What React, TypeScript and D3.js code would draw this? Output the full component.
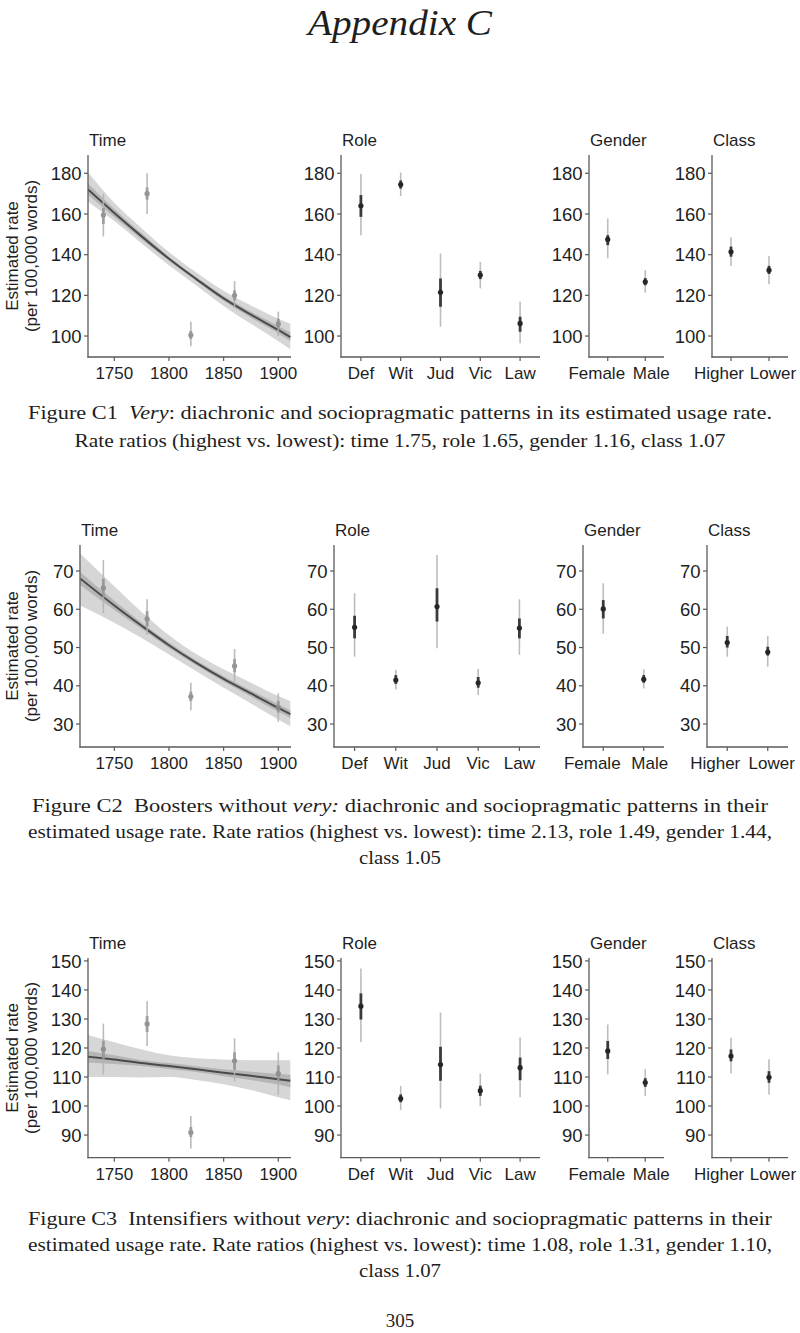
import * as d3 from "d3";

// shared categories and ticks
const timeCats = [1740, 1780, 1820, 1860, 1900];
const timeTicks = [1750, 1800, 1850, 1900];
const roleCats = ["Def", "Wit", "Jud", "Vic", "Law"];
const genderCats = ["Female", "Male"];
const classCats = ["Higher", "Lower"];

// Figure C1 - very
const c1YTicks = [100, 120, 140, 160, 180];
const c1CurveYears = [1726, 1750, 1775, 1800, 1825, 1850, 1875, 1900, 1911];
const c1CurveFit = [172, 160.5, 149, 138, 128, 118.5, 110.5, 103, 99.5];
const c1CurveOuterLo = [166, 156.5, 145.5, 134.8, 124.8, 114.8, 106, 97.5, 93.5];
const c1CurveOuterHi = [180.5, 165.5, 153, 141.3, 131.3, 122.3, 115, 108.5, 106];
const c1CurveInnerLo = [169.5, 158.5, 147.5, 137, 127, 117.3, 109, 101.3, 97.5];
const c1CurveInnerHi = [175, 162.5, 150.5, 139, 129, 119.7, 112, 104.8, 101.8];
const c1TimeEst = [159.5, 170, 100.5, 120, 106];
const c1TimeOuter = [[149, 170], [160, 180], [95, 107], [114, 127], [100, 112]];
const c1TimeInner = [[155, 163], [167, 173], [98.5, 102.5], [117.5, 122.5], [103.5, 108.5]];
const c1RoleEst = [164, 174.5, 121.5, 130, 106.2];
const c1RoleOuter = [[149.6, 179.6], [168.8, 180.4], [104.6, 140.6], [123.4, 136.5], [96.4, 116.9]];
const c1RoleInner = [[158.6, 169.3], [172.5, 176.5], [114.4, 128.3], [128, 132], [102.1, 109.5]];
const c1GenderEst = [147.5, 126.7];
const c1GenderOuter = [[138.2, 157.8], [121.3, 132.4]];
const c1GenderInner = [[144.7, 149.6], [125, 128.5]];
const c1ClassEst = [141.4, 132.4];
const c1ClassOuter = [[134.4, 148.5], [125.5, 139.3]];
const c1ClassInner = [[139, 144], [130.5, 134.5]];

// Figure C2 - boosters without very
const c2YTicks = [30, 40, 50, 60, 70];
const c2CurveYears = [1719, 1750, 1775, 1800, 1825, 1850, 1875, 1900, 1911];
const c2CurveFit = [68, 61, 55.7, 50.6, 46, 41.8, 38, 34.2, 32.6];
const c2CurveOuterLo = [61, 56.5, 52.5, 48.2, 43.8, 39.5, 35.4, 31.2, 29.4];
const c2CurveOuterHi = [74.5, 66, 59.3, 53.2, 48.3, 44.3, 40.8, 37.3, 36];
const c2CurveInnerLo = [66.3, 59.8, 54.9, 49.9, 45.4, 41.1, 37.2, 33.2, 31.6];
const c2CurveInnerHi = [69.7, 62.2, 56.5, 51.3, 46.6, 42.5, 38.8, 35.2, 33.6];
const c2TimeEst = [65.6, 57.5, 37.2, 45.2, 34.3];
const c2TimeOuter = [[59, 72.9], [53.3, 62.6], [33.6, 40.8], [41.1, 49.6], [30.6, 38]];
const c2TimeInner = [[63, 68], [55.5, 59.5], [36, 38.5], [43.5, 47], [33, 36]];
const c2RoleEst = [55.3, 41.5, 60.7, 40.8, 55.1];
const c2RoleOuter = [[47.6, 64.2], [39, 44.2], [49.8, 74.2], [37.6, 44.4], [48.1, 62.6]];
const c2RoleInner = [[52.4, 58.3], [40.5, 42.8], [56.8, 65.5], [39.5, 42.3], [52.4, 57.6]];
const c2GenderEst = [60.1, 41.7];
const c2GenderOuter = [[53.6, 66.8], [39.3, 44.3]];
const c2GenderInner = [[57.6, 62.4], [40.8, 42.8]];
const c2ClassEst = [51.3, 48.8];
const c2ClassOuter = [[47.6, 55.5], [45, 53]];
const c2ClassInner = [[50, 53], [47.9, 50.2]];

// Figure C3 - intensifiers without very
const c3YTicks = [90, 100, 110, 120, 130, 140, 150];
const c3CurveYears = [1726, 1750, 1775, 1800, 1825, 1850, 1875, 1900, 1911];
const c3CurveFit = [117, 116, 114.8, 113.8, 112.7, 111.5, 110.4, 109.2, 108.7];
const c3CurveOuterLo = [110, 110, 109.8, 110, 109, 107.5, 105.5, 103, 102];
const c3CurveOuterHi = [124.5, 122, 119.5, 117.5, 116.5, 116, 115.8, 115.8, 115.8];
const c3CurveInnerLo = [115, 114.5, 113.8, 112.8, 111.7, 110.3, 109, 107.4, 106.5];
const c3CurveInnerHi = [119, 117.5, 115.8, 114.8, 113.7, 112.7, 111.8, 111, 110.8];
const c3TimeEst = [119.6, 128.3, 90.9, 115.6, 111.2];
const c3TimeOuter = [[110.9, 128.4], [120.7, 136.1], [85.4, 96.6], [108.4, 123.3], [103.8, 118.5]];
const c3TimeInner = [[116, 122.5], [125.5, 131], [89.3, 92.8], [112.5, 118.5], [108.5, 114]];
const c3RoleEst = [134.4, 102.6, 114.3, 105.3, 113.2];
const c3RoleOuter = [[122.1, 147.4], [98.6, 106.9], [99.2, 132.2], [100, 111.2], [103, 123.6]];
const c3RoleInner = [[129.8, 138.8], [101.3, 104], [108.7, 120.4], [103.5, 107], [108.9, 116.7]];
const c3GenderEst = [119, 108.1];
const c3GenderOuter = [[110.9, 128.1], [103.5, 112.7]];
const c3GenderInner = [[116.2, 122.4], [106.6, 109.6]];
const c3ClassEst = [117.2, 109.9];
const c3ClassOuter = [[111.2, 123.5], [104, 116.1]];
const c3ClassInner = [[115.4, 119.5], [108, 112]];

const SANS = "'Liberation Sans', Arial, Helvetica, sans-serif";
const SERIF = "'Liberation Serif', 'DejaVu Serif', serif";
const INK = "#1e1e1e";
const AXIS = "#5a5a5a";
const PANEL_RIGHT = [291, 540, 664, 788];
// the two-level panels have their labels pushed apart so they don't collide
const GENDER_NUDGE = [-11, 6];
const CLASS_NUDGE = [-12, 4];

type Seg = [string, boolean];

const figures = [
  {
    id: "c1", top: 155, bottom: 357, yDomain: [89.7, 189], yTicks: c1YTicks,
    lefts: [88, 341, 589, 712],
    curve: { years: c1CurveYears, fit: c1CurveFit, oLo: c1CurveOuterLo, oHi: c1CurveOuterHi, iLo: c1CurveInnerLo, iHi: c1CurveInnerHi },
    time: { est: c1TimeEst, outer: c1TimeOuter, inner: c1TimeInner },
    role: { est: c1RoleEst, outer: c1RoleOuter, inner: c1RoleInner },
    gender: { est: c1GenderEst, outer: c1GenderOuter, inner: c1GenderInner },
    klass: { est: c1ClassEst, outer: c1ClassOuter, inner: c1ClassInner },
    caption: [
      { y: 419, len: 744, segs: [["Figure C1  ", false], ["Very", true], [": diachronic and sociopragmatic patterns in its estimated usage rate.", false]] as Seg[] },
      { y: 447, len: 651, segs: [["Rate ratios (highest vs. lowest): time 1.75, role 1.65, gender 1.16, class 1.07", false]] as Seg[] },
    ],
  },
  {
    id: "c2", top: 545, bottom: 747, yDomain: [24, 76.8], yTicks: c2YTicks,
    lefts: [80, 334, 583, 707],
    curve: { years: c2CurveYears, fit: c2CurveFit, oLo: c2CurveOuterLo, oHi: c2CurveOuterHi, iLo: c2CurveInnerLo, iHi: c2CurveInnerHi },
    time: { est: c2TimeEst, outer: c2TimeOuter, inner: c2TimeInner },
    role: { est: c2RoleEst, outer: c2RoleOuter, inner: c2RoleInner },
    gender: { est: c2GenderEst, outer: c2GenderOuter, inner: c2GenderInner },
    klass: { est: c2ClassEst, outer: c2ClassOuter, inner: c2ClassInner },
    caption: [
      { y: 812, len: 736, segs: [["Figure C2  Boosters without ", false], ["very:", true], [" diachronic and sociopragmatic patterns in their", false]] as Seg[] },
      { y: 838, len: 744, segs: [["estimated usage rate. Rate ratios (highest vs. lowest): time 2.13, role 1.49, gender 1.44,", false]] as Seg[] },
      { y: 864, len: 82, segs: [["class 1.05", false]] as Seg[] },
    ],
  },
  {
    id: "c3", top: 958, bottom: 1157.7, yDomain: [82.2, 151], yTicks: c3YTicks,
    lefts: [88, 341, 589, 712],
    curve: { years: c3CurveYears, fit: c3CurveFit, oLo: c3CurveOuterLo, oHi: c3CurveOuterHi, iLo: c3CurveInnerLo, iHi: c3CurveInnerHi },
    time: { est: c3TimeEst, outer: c3TimeOuter, inner: c3TimeInner },
    role: { est: c3RoleEst, outer: c3RoleOuter, inner: c3RoleInner },
    gender: { est: c3GenderEst, outer: c3GenderOuter, inner: c3GenderInner },
    klass: { est: c3ClassEst, outer: c3ClassOuter, inner: c3ClassInner },
    caption: [
      { y: 1225, len: 744, segs: [["Figure C3  Intensifiers without ", false], ["very", true], [": diachronic and sociopragmatic patterns in their", false]] as Seg[] },
      { y: 1251, len: 744, segs: [["estimated usage rate. Rate ratios (highest vs. lowest): time 1.08, role 1.31, gender 1.10,", false]] as Seg[] },
      { y: 1277, len: 82, segs: [["class 1.07", false]] as Seg[] },
    ],
  },
];

type Fig = (typeof figures)[number];

function Intervals({ xs, y, data, light }: { xs: number[]; y: d3.ScaleLinear<number, number>; data: { est: number[]; outer: number[][]; inner: number[][] }; light?: boolean }) {
  const outerCol = light ? "#b4b4b4" : "#bdbdbd";
  const innerCol = light ? "#959595" : "#3a3a3a";
  const dotCol = light ? "#8a8a8a" : "#262626";
  return (
    <g>
      {data.est.map((v, i) => (
        <g key={i}>
          <line x1={xs[i]} x2={xs[i]} y1={y(data.outer[i][0])} y2={y(data.outer[i][1])} stroke={outerCol} strokeWidth={1.6} />
          <line x1={xs[i]} x2={xs[i]} y1={y(data.inner[i][0])} y2={y(data.inner[i][1])} stroke={innerCol} strokeWidth={2.8} />
          <circle cx={xs[i]} cy={y(v)} r={2.6} fill={dotCol} />
        </g>
      ))}
    </g>
  );
}

function Axes({ left, right, top, bottom, y, yTicks, xTicks, title }: { left: number; right: number; top: number; bottom: number; y: d3.ScaleLinear<number, number>; yTicks: number[]; xTicks: { x: number; label: string; dx?: number }[]; title: string }) {
  return (
    <g fontFamily={SANS} fontSize={17} fill={INK}>
      <text x={left + 1} y={top - 9}>{title}</text>
      <line x1={left} x2={left} y1={top} y2={bottom + 0.6} stroke={AXIS} strokeWidth={1.3} />
      <line x1={left - 0.6} x2={right} y1={bottom} y2={bottom} stroke={AXIS} strokeWidth={1.3} />
      {yTicks.map((t) => (
        <g key={t}>
          <line x1={left - 4} x2={left} y1={y(t)} y2={y(t)} stroke={AXIS} strokeWidth={1.2} />
          <text x={left - 6.5} y={y(t)} dy="0.36em" textAnchor="end" fontSize={18.5}>{t}</text>
        </g>
      ))}
      {xTicks.map((t) => (
        <g key={t.label}>
          <line x1={t.x} x2={t.x} y1={bottom} y2={bottom + 4} stroke={AXIS} strokeWidth={1.2} />
          <text x={t.x + (t.dx || 0)} y={bottom + 22} textAnchor="middle">{t.label}</text>
        </g>
      ))}
    </g>
  );
}

function Figure({ f }: { f: Fig }) {
  const y = d3.scaleLinear().domain(f.yDomain).range([f.bottom, f.top]);
  const xTime = d3.scaleLinear().domain([1750, 1900]).range([114.3, 278.3]);
  const point = (cats: string[], k: number) =>
    d3.scalePoint<string>().domain(cats).range([f.lefts[k], PANEL_RIGHT[k]]).padding(0.5);
  const xRole = point(roleCats, 1);
  const xGender = point(genderCats, 2);
  const xClass = point(classCats, 3);

  const c = f.curve;
  const idx = d3.range(c.years.length);
  const band = (lo: number[], hi: number[]) =>
    d3.area<number>().x((i) => xTime(c.years[i])).y0((i) => y(lo[i])).y1((i) => y(hi[i])).curve(d3.curveMonotoneX)(idx) || "";
  const fitLine = d3.line<number>().x((i) => xTime(c.years[i])).y((i) => y(c.fit[i])).curve(d3.curveMonotoneX)(idx) || "";
  const mid = (f.top + f.bottom) / 2;

  return (
    <g>
      <clipPath id={`clip-${f.id}`}>
        <rect x={f.lefts[0]} y={f.top} width={PANEL_RIGHT[0] - f.lefts[0]} height={f.bottom - f.top} />
      </clipPath>
      <g clipPath={`url(#clip-${f.id})`}>
        <path d={band(c.oLo, c.oHi)} fill="#d6d6d6" />
        <path d={band(c.iLo, c.iHi)} fill="#b5b5b5" />
        <path d={fitLine} fill="none" stroke="#4a4a4a" strokeWidth={2} />
      </g>
      <g opacity={0.9}>
        <Intervals xs={timeCats.map((d) => xTime(d))} y={y} data={f.time} light />
      </g>
      <Intervals xs={roleCats.map((d) => xRole(d) as number)} y={y} data={f.role} />
      <Intervals xs={genderCats.map((d) => xGender(d) as number)} y={y} data={f.gender} />
      <Intervals xs={classCats.map((d) => xClass(d) as number)} y={y} data={f.klass} />

      <Axes left={f.lefts[0]} right={PANEL_RIGHT[0]} top={f.top} bottom={f.bottom} y={y} yTicks={f.yTicks}
        xTicks={timeTicks.map((t) => ({ x: xTime(t), label: String(t) }))} title="Time" />
      <Axes left={f.lefts[1]} right={PANEL_RIGHT[1]} top={f.top} bottom={f.bottom} y={y} yTicks={f.yTicks}
        xTicks={roleCats.map((t) => ({ x: xRole(t) as number, label: t }))} title="Role" />
      <Axes left={f.lefts[2]} right={PANEL_RIGHT[2]} top={f.top} bottom={f.bottom} y={y} yTicks={f.yTicks}
        xTicks={genderCats.map((t, i) => ({ x: xGender(t) as number, label: t, dx: GENDER_NUDGE[i] }))} title="Gender" />
      <Axes left={f.lefts[3]} right={PANEL_RIGHT[3]} top={f.top} bottom={f.bottom} y={y} yTicks={f.yTicks}
        xTicks={classCats.map((t, i) => ({ x: xClass(t) as number, label: t, dx: CLASS_NUDGE[i] }))} title="Class" />

      <g fontFamily={SANS} fontSize={17} fill={INK} textAnchor="middle">
        <text transform={`translate(18,${mid}) rotate(-90)`}>Estimated rate</text>
        <text transform={`translate(37,${mid}) rotate(-90)`}>(per 100,000 words)</text>
      </g>

      <g fontFamily={SERIF} fontSize={19.5} fill={INK} textAnchor="middle">
        {f.caption.map((line, i) => (
          <text key={i} x={400} y={line.y} textLength={line.len} lengthAdjust="spacingAndGlyphs" style={{ whiteSpace: "pre" }}>
            {line.segs.map(([s, it], j) => (
              <tspan key={j} fontStyle={it ? "italic" : "normal"}>{s}</tspan>
            ))}
          </text>
        ))}
      </g>
    </g>
  );
}

export default function App() {
  return (
    <svg width={800} height={1333} viewBox="0 0 800 1333" style={{ position: "absolute", left: 0, top: 0, background: "#fff" }}>
      <rect width={800} height={1333} fill="#fff" />
      <text x={400} y={35} textAnchor="middle" fontFamily={SERIF} fontStyle="italic" fontSize={36} fill={INK}
        textLength={184} lengthAdjust="spacingAndGlyphs">Appendix C</text>
      {figures.map((f) => (
        <Figure key={f.id} f={f} />
      ))}
      <text x={400} y={1327} textAnchor="middle" fontFamily={SERIF} fontSize={19} fill={INK}>305</text>
    </svg>
  );
}
